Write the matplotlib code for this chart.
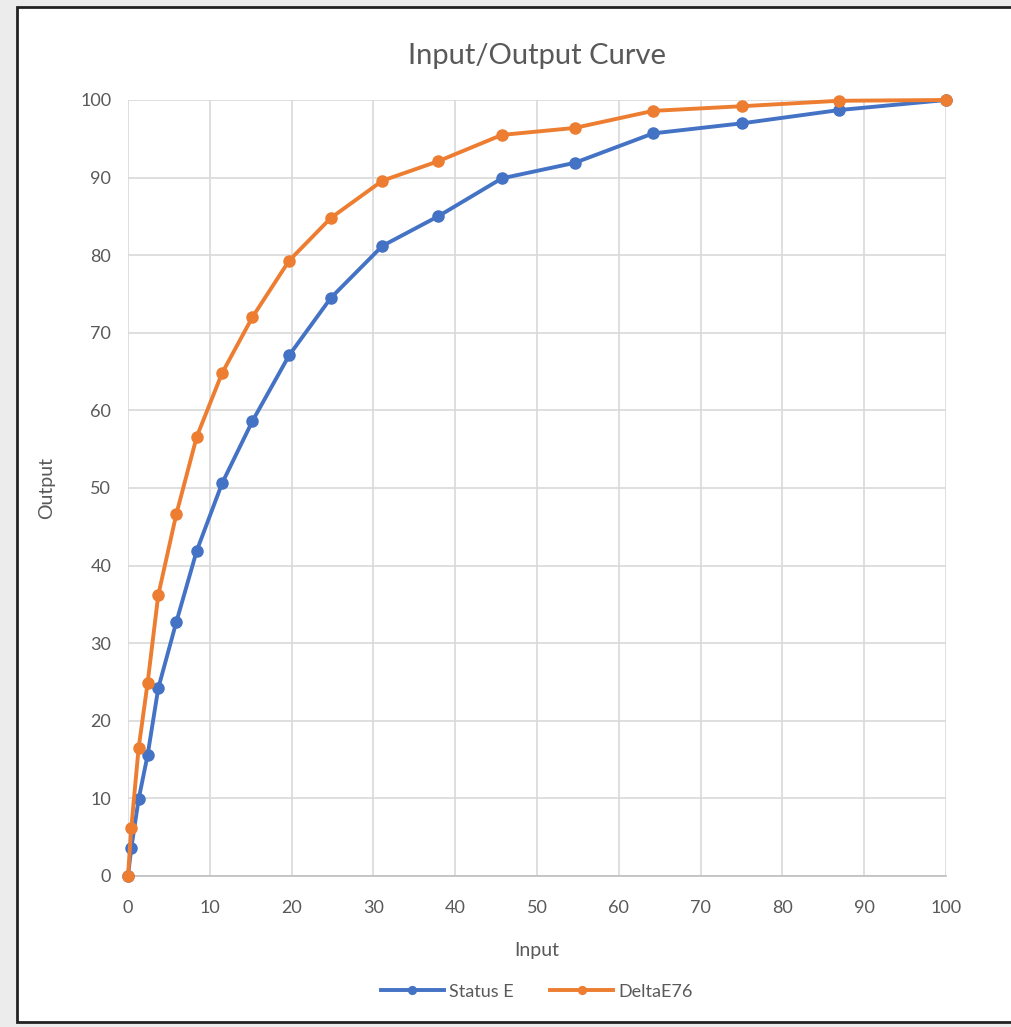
import numpy as np
import matplotlib
matplotlib.use("Agg")
import matplotlib.pyplot as plt
from matplotlib.patches import Rectangle

# данные
x_in = [0, 0.4, 1.3, 2.4, 3.7, 5.9, 8.4, 11.5, 15.2, 19.7, 24.8, 31.1,
        37.9, 45.7, 54.6, 64.2, 75.1, 86.9, 100]
status_e = [0, 3.6, 9.9, 15.6, 24.2, 32.7, 41.9, 50.6, 58.6, 67.1, 74.5,
            81.2, 85.0, 89.9, 91.9, 95.7, 97.0, 98.7, 100]
delta_e76 = [0, 6.2, 16.5, 24.9, 36.2, 46.6, 56.6, 64.8, 72.0, 79.3, 84.8,
             89.6, 92.1, 95.5, 96.4, 98.6, 99.2, 99.9, 100]

plt.rcParams['font.family'] = ['Lato', 'DejaVu Sans']

W, H = 1012, 1027
fig = plt.figure(figsize=(W / 100, H / 100), dpi=100)
fig.patch.set_facecolor('#ececec')
fig.patches.append(Rectangle((17 / W, 5 / H), 1.0, 1 - 12 / H,
                             transform=fig.transFigure, facecolor='white',
                             edgecolor='#222222', linewidth=2, zorder=-10))

ax = fig.add_axes([128 / W, 1 - 876 / H, (946 - 128) / W, (876 - 100) / H])
ax.set_facecolor('white')

blue = '#4472c4'
orange = '#ed7d31'
ax.plot(x_in, status_e, color=blue, lw=2.8, marker='o', ms=8,
        label='Status E', zorder=3, clip_on=False)
ax.plot(x_in, delta_e76, color=orange, lw=2.8, marker='o', ms=8,
        label='DeltaE76', zorder=4, clip_on=False)

ax.set_xlim(0, 100)
ax.set_ylim(0, 100)
ax.set_xticks(np.arange(0, 101, 10))
ax.set_yticks(np.arange(0, 101, 10))
ax.grid(True, color='#d9d9d9', lw=1.2)
ax.set_axisbelow(True)
for s in ax.spines.values():
    s.set_visible(False)
ax.spines['bottom'].set_visible(True)
ax.spines['bottom'].set_color('#bfbfbf')
ax.spines['bottom'].set_linewidth(1.2)
ax.tick_params(axis='x', length=0, labelsize=13, colors='#595959', pad=17)
ax.tick_params(axis='y', length=0, labelsize=13, colors='#595959', pad=12)

ax.set_title('Input/Output Curve', fontsize=21, color='#595959', pad=26)
ax.set_xlabel('Input', fontsize=14, color='#595959', labelpad=19)
ax.set_ylabel('Output', fontsize=14, color='#595959', labelpad=18)

ax.legend(loc='upper center', bbox_to_anchor=(0.5, -0.118), ncol=2,
          frameon=False, fontsize=13, labelcolor='#595959',
          handlelength=3.5, columnspacing=2, handletextpad=0.3, markerscale=0.7)

fig.savefig('out.png', dpi=100, facecolor=fig.get_facecolor())
